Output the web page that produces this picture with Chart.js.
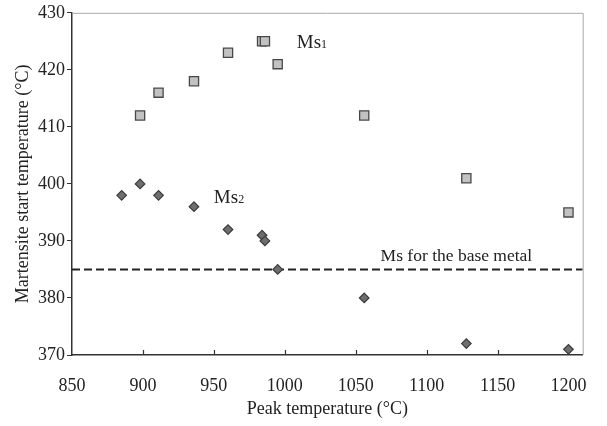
<!DOCTYPE html>
<html>
<head>
<meta charset="utf-8">
<script src="https://cdn.jsdelivr.net/npm/chart.js@4/dist/chart.umd.min.js"></script>
<style>
  html, body { margin: 0; padding: 0; background: #fff; }
  #wrap { width: 607px; height: 426px; position: relative; }
</style>
</head>
<body>
<div id="wrap"><canvas id="ms-chart"></canvas></div>
<script>
// peak temperatures (°C)
const peakTemps = [885, 898, 911, 936, 960, 984, 986, 995, 1056, 1128, 1200];
// Ms1 (squares) - no value at 885
const ms1Temps = [898, 911, 936, 960, 984, 986, 995, 1056, 1128, 1200];
const ms1Values = [412, 416, 418, 423, 425, 425, 421, 412, 401, 395];
// Ms2 (diamonds)
const ms2Values = [398, 400, 398, 396, 392, 391, 390, 385, 380, 372, 371];
// Ms of the base metal
const baseMs = 385;
const xTicks = [850, 900, 950, 1000, 1050, 1100, 1150, 1200];
const yTicks = [370, 380, 390, 400, 410, 420, 430];

const serif = '"Liberation Serif", "DejaVu Serif", serif';

const ms1Points = ms1Temps.map((t, i) => ({ x: t, y: ms1Values[i] }));
const ms2Points = peakTemps.map((t, i) => ({ x: t, y: ms2Values[i] }));
const xMin = 850, xMax = 1210;

// frame, inner x ticks and the text labels
const extras = {
  id: 'extras',
  beforeDatasetsDraw(chart) {
    const { ctx, chartArea: a, scales } = chart;
    ctx.save();
    ctx.strokeStyle = '#a8a8a8';
    ctx.lineWidth = 1;
    ctx.beginPath();
    ctx.moveTo(a.left, a.top + 0.5);
    ctx.lineTo(a.right + 0.5, a.top + 0.5);
    ctx.lineTo(a.right + 0.5, a.bottom);
    ctx.stroke();

    ctx.strokeStyle = '#333';
    ctx.lineWidth = 1.2;
    ctx.beginPath();
    xTicks.slice(1).forEach(v => {
      const px = Math.round(scales.x.getPixelForValue(v)) + 0.5;
      ctx.moveTo(px, a.bottom);
      ctx.lineTo(px, a.bottom - 5);
    });
    ctx.stroke();
    ctx.restore();
  },
  afterDraw(chart) {
    const { ctx, scales } = chart;
    ctx.save();
    ctx.fillStyle = '#222';
    ctx.textBaseline = 'alphabetic';
    const sub = (label, idx, x, y) => {
      ctx.font = '19px ' + serif;
      ctx.fillText(label, x, y);
      const w = ctx.measureText(label).width;
      ctx.font = '12px ' + serif;
      ctx.fillText(idx, x + w, y);
    };
    sub('Ms', '1', scales.x.getPixelForValue(1008.5), scales.y.getPixelForValue(423.8));
    sub('Ms', '2', scales.x.getPixelForValue(950), scales.y.getPixelForValue(396.6));
    ctx.font = '17.5px ' + serif;
    ctx.textAlign = 'center';
    ctx.fillText('Ms for the base metal', scales.x.getPixelForValue(1121), scales.y.getPixelForValue(386.4));
    ctx.restore();
  }
};

new Chart(document.getElementById('ms-chart'), {
  type: 'scatter',
  data: {
    datasets: [
      {
        label: 'Ms base',
        type: 'line',
        data: [{ x: xMin, y: baseMs }, { x: xMax, y: baseMs }],
        borderColor: '#222',
        borderWidth: 2,
        borderDash: [8, 4],
        pointRadius: 0,
        order: 3
      },
      {
        label: 'Ms1',
        data: ms1Points,
        pointStyle: 'rect',
        pointRadius: 6.5,
        pointHoverRadius: 6.5,
        backgroundColor: '#c2c2c2',
        borderColor: '#484848',
        borderWidth: 1.3,
        order: 1
      },
      {
        label: 'Ms2',
        data: ms2Points,
        pointStyle: 'rectRot',
        pointRadius: 4.8,
        pointHoverRadius: 4.8,
        backgroundColor: '#6e6e6e',
        borderColor: '#3c3c3c',
        borderWidth: 1.2,
        order: 2
      }
    ]
  },
  plugins: [extras],
  options: {
    responsive: true,
    maintainAspectRatio: false,
    animation: false,
    layout: { padding: { top: 12, right: 19, left: 8, bottom: 0 } },
    plugins: {
      legend: { display: false },
      tooltip: { enabled: false }
    },
    scales: {
      x: {
        type: 'linear',
        min: xMin,
        max: xMax,
        afterFit(scale) { scale.height = 71; },
        afterBuildTicks(scale) { scale.ticks = xTicks.map(v => ({ value: v })); },
        grid: { display: false, drawTicks: false },
        border: { color: '#333', width: 1.5 },
        ticks: {
          padding: 20,
          color: '#222',
          font: { family: serif, size: 18 },
          maxRotation: 0,
          callback: v => String(v)
        },
        title: {
          display: true,
          text: 'Peak temperature (°C)',
          color: '#222',
          font: { family: serif, size: 18 },
          padding: { top: 4, bottom: 6 }
        }
      },
      y: {
        min: 370,
        max: 430,
        afterFit(scale) { scale.width = 64; },
        afterBuildTicks(scale) { scale.ticks = yTicks.map(v => ({ value: v })); },
        grid: { drawOnChartArea: false, tickLength: 5, color: '#333', tickColor: '#333' },
        border: { color: '#333', width: 1.5 },
        ticks: {
          padding: 2,
          color: '#222',
          font: { family: serif, size: 18 },
          callback: v => String(v)
        },
        title: {
          display: true,
          text: 'Martensite start temperature (°C)',
          color: '#222',
          font: { family: serif, size: 18 },
          padding: { bottom: 2 }
        }
      }
    }
  }
});
</script>
</body>
</html>
